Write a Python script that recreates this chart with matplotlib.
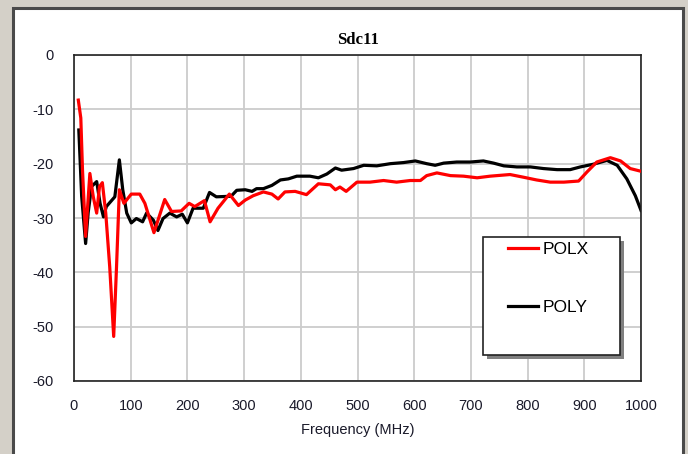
"""Sdc11 mixed-mode return loss, POLX vs POLY."""

import matplotlib.pyplot as plt
from matplotlib.patches import Rectangle

plt.rcParams["axes.unicode_minus"] = False

# frequency (MHz) / Sdc11 (dB)
polx_f = [7.6, 12, 15, 20.5, 28, 34, 40, 45, 50, 56, 63, 70, 75, 80, 88, 101,
          116, 125, 141, 160, 172, 189, 203, 213, 230, 240, 254, 274, 290, 302,
          316, 334, 349, 360, 372, 390, 410, 431, 452, 461, 469, 480, 499, 522,
          546, 569, 593, 611, 622, 640, 664, 687, 711, 734, 769, 793, 816, 840,
          864, 890, 905, 922, 946, 964, 981, 1000]
polx_db = [-8.3, -11.6, -21.2, -33.4, -21.8, -26.1, -29.1, -24.2, -23.5, -29.1,
           -39.0, -51.8, -39.0, -24.8, -27.3, -25.6, -25.6, -27.3, -32.7, -26.6,
           -28.8, -28.7, -27.3, -27.9, -26.8, -30.7, -28.2, -25.6, -27.7, -26.7,
           -25.9, -25.2, -25.6, -26.5, -25.2, -25.1, -25.7, -23.7, -23.9, -24.8,
           -24.3, -25.1, -23.4, -23.4, -23.1, -23.4, -23.1, -23.1, -22.2, -21.7,
           -22.2, -22.3, -22.6, -22.3, -22.0, -22.5, -23.0, -23.4, -23.4, -23.2,
           -21.5, -19.7, -18.9, -19.5, -20.9, -21.4]

poly_f = [8.5, 13.5, 20.5, 25, 31, 40, 46, 52, 57, 72, 80, 86, 93, 101, 110,
          121, 128, 140, 148, 157, 169, 181, 191, 200, 210, 228, 239, 251, 277,
          287, 302, 314, 322, 334, 349, 364, 378, 393, 416, 431, 446, 461, 472,
          493, 511, 534, 558, 581, 602, 622, 637, 652, 675, 699, 722, 740, 758,
          781, 805, 828, 852, 875, 893, 916, 940, 958, 975, 990, 1000]
poly_db = [-13.8, -26.0, -34.7, -29.0, -24.2, -23.3, -27.3, -29.8, -27.9, -26.1,
           -19.3, -24.8, -29.1, -30.9, -30.1, -30.7, -29.1, -30.4, -32.3, -30.1,
           -29.1, -29.8, -29.3, -30.9, -28.2, -28.2, -25.3, -26.1, -26.0, -24.9,
           -24.8, -25.1, -24.6, -24.6, -24.0, -23.0, -22.8, -22.3, -22.3, -22.6,
           -21.9, -20.8, -21.2, -20.9, -20.3, -20.4, -20.0, -19.8, -19.5, -20.0,
           -20.3, -19.9, -19.7, -19.7, -19.5, -19.9, -20.4, -20.6, -20.6, -20.9,
           -21.1, -21.1, -20.6, -20.1, -19.4, -20.3, -22.8, -25.9, -28.6]

W, H = 688, 454
fig = plt.figure(figsize=(W / 100, H / 100), dpi=100, facecolor="#d4d0c8")

# white panel with a dark window border
fig.add_artist(Rectangle((13 / W, -0.05), (683 - 13) / W, 1.05 - 8 / H,
                         transform=fig.transFigure, facecolor="white",
                         edgecolor="#4a4a4a", lw=2.2, zorder=0))

ax = fig.add_axes([74 / W, 1 - 381 / H, (641 - 74) / W, (381 - 55) / H])
ax.set_facecolor("white")

ax.plot(polx_f, polx_db, color="#ff0000", lw=2.3, label="POLX", zorder=3)
ax.plot(poly_f, poly_db, color="black", lw=2.3, label="POLY", zorder=2)

ax.set_xlim(0, 1000)
ax.set_ylim(-60, 0)
ax.set_xticks(range(0, 1001, 100))
ax.set_yticks(range(-60, 1, 10))
ax.grid(color="#cccccc", lw=1.3)
ax.set_axisbelow(True)
ax.tick_params(length=0, labelsize=10.5, colors="#1a1a2a", labelfontfamily="Liberation Sans")
ax.tick_params(axis="y", pad=15)
ax.tick_params(axis="x", pad=13)
for s in ax.spines.values():
    s.set_color("#222222")
    s.set_linewidth(1.2)

ax.set_title("Sdc11", fontsize=12, fontweight="bold", family="Liberation Serif", pad=8)
ax.set_xlabel("Frequency (MHz)", fontsize=10.5, family="Liberation Sans",
              color="#1a1a2a", labelpad=7)

# legend box with drop shadow
bx0, bx1 = (483 - 74) / 567, (620 - 74) / 567
by0, by1 = (381 - 355) / 326, (381 - 237) / 326
sh = 4 / 567, 4 / 326
ax.add_patch(Rectangle((bx0 + sh[0], by0 - sh[1]), bx1 - bx0, by1 - by0,
                       transform=ax.transAxes, facecolor="#808080",
                       edgecolor="none", zorder=5))
ax.add_patch(Rectangle((bx0, by0), bx1 - bx0, by1 - by0, transform=ax.transAxes,
                       facecolor="white", edgecolor="#222222", lw=1.2, zorder=6))
leg = ax.legend(loc="upper left", bbox_to_anchor=((508 - 74) / 567, (381 - 242) / 326),
                frameon=False, borderpad=0, borderaxespad=0, handlelength=1.75,
                handletextpad=0.25, labelspacing=2.45,
                prop={"family": "Liberation Sans", "size": 12.5})
leg.set_zorder(7)

fig.savefig("out.png", dpi=100, facecolor=fig.get_facecolor())
